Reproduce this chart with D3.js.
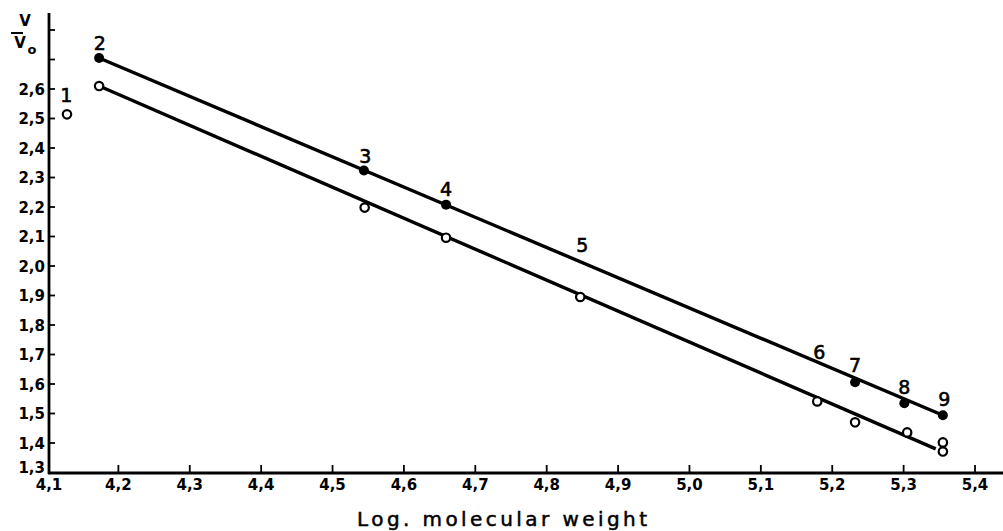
<!DOCTYPE html>
<html>
<head>
<meta charset="utf-8">
<script src="https://cdn.jsdelivr.net/npm/d3@7"></script>
<style>
  body { margin: 0; background: #fff; }
  svg { display: block; font-family: 'DejaVu Sans', sans-serif; }
</style>
</head>
<body>
<svg id="chart" width="1003" height="531"></svg>
<script>
// points: log molecular weight vs V/V0
const filledX = [4.173, 4.544, 4.659, 5.232, 5.301, 5.355];
const filledY = [2.705, 2.324, 2.208, 1.606, 1.535, 1.494];
const openX = [4.128, 4.173, 4.545, 4.659, 4.847, 5.179, 5.232, 5.305, 5.355, 5.355];
const openY = [2.514, 2.610, 2.198, 2.096, 1.895, 1.541, 1.470, 1.436, 1.402, 1.371];

// straight fitted lines, end points
const upperLineX = [4.173, 5.355];
const upperLineY = [2.705, 1.494];
const lowerLineX = [4.173, 5.345];
const lowerLineY = [2.610, 1.380];

// sample numbers written next to the points
const labelText = ['1', '2', '3', '4', '5', '6', '7', '8', '9'];
const labelX = [4.127, 4.174, 4.546, 4.659, 4.850, 5.182, 5.232, 5.301, 5.357];
const labelY = [2.576, 2.752, 2.368, 2.256, 2.065, 1.705, 1.661, 1.586, 1.545];

const xTicks = [4.1, 4.2, 4.3, 4.4, 4.5, 4.6, 4.7, 4.8, 4.9, 5.0, 5.1, 5.2, 5.3, 5.4];
const yTicks = [1.3, 1.4, 1.5, 1.6, 1.7, 1.8, 1.9, 2.0, 2.1, 2.2, 2.3, 2.4, 2.5, 2.6, 2.7, 2.8];
const yLabelled = [1.3, 1.4, 1.5, 1.6, 1.7, 1.8, 1.9, 2.0, 2.1, 2.2, 2.3, 2.4, 2.5, 2.6];

const svg = d3.select('#chart');
const x = d3.scaleLinear().domain([4.1, 5.4]).range([47, 975]);
const y = d3.scaleLinear().domain([1.3, 2.8]).range([472.5, 30]);
const fmt = v => d3.format('.1f')(v).replace('.', ',');

// axes lines
svg.append('line')
  .attr('x1', 49).attr('x2', 49).attr('y1', 13).attr('y2', 474)
  .attr('stroke', '#000').attr('stroke-width', 2.8);
svg.append('line')
  .attr('x1', 48).attr('x2', 1003).attr('y1', 473).attr('y2', 473)
  .attr('stroke', '#000').attr('stroke-width', 2.8);

// x ticks pointing up
const xg = svg.append('g');
xg.selectAll('line').data(xTicks.slice(1)).enter().append('line')
  .attr('x1', d => x(d)).attr('x2', d => x(d))
  .attr('y1', 473).attr('y2', 465)
  .attr('stroke', '#000').attr('stroke-width', 1.8);
xg.selectAll('text').data(xTicks).enter().append('text')
  .attr('x', (d, i) => x(d) + (i === 0 ? 2 : 0))
  .attr('y', 485)
  .attr('text-anchor', 'middle')
  .attr('dominant-baseline', 'middle')
  .attr('font-size', 15).attr('font-weight', 'bold')
  .text(fmt);

// y ticks pointing right
const yg = svg.append('g');
yg.selectAll('line').data(yTicks.slice(1)).enter().append('line')
  .attr('x1', 49).attr('x2', 55)
  .attr('y1', d => y(d)).attr('y2', d => y(d))
  .attr('stroke', '#000').attr('stroke-width', 1.8);
yg.selectAll('text').data(yLabelled).enter().append('text')
  .attr('x', 45)
  .attr('y', (d, i) => y(d) + (i === 0 ? -4 : 1))
  .attr('text-anchor', 'end')
  .attr('dominant-baseline', 'middle')
  .attr('font-size', 15).attr('font-weight', 'bold')
  .text(fmt);

// V / V0 axis title
const yt = svg.append('g');
yt.append('text').attr('x', 25).attr('y', 26).attr('text-anchor', 'middle')
  .attr('font-size', 15).attr('font-weight', 'bold').text('V');
yt.append('line').attr('x1', 11).attr('x2', 23).attr('y1', 33).attr('y2', 33)
  .attr('stroke', '#000').attr('stroke-width', 2);
yt.append('text').attr('x', 20).attr('y', 48).attr('text-anchor', 'middle')
  .attr('font-size', 15).attr('font-weight', 'bold').text('V');
yt.append('text').attr('x', 32).attr('y', 54).attr('text-anchor', 'middle')
  .attr('font-size', 13).attr('font-weight', 'bold').text('o');

// x axis title
svg.append('text')
  .attr('x', 502).attr('y', 526)
  .attr('text-anchor', 'middle')
  .attr('font-size', 20)
  .attr('stroke', '#000').attr('stroke-width', 0.5)
  .attr('textLength', 290).attr('lengthAdjust', 'spacing')
  .text('Log. molecular  weight');

// fitted lines
const line = d3.line().x(d => x(d[0])).y(d => y(d[1]));
svg.append('path')
  .attr('d', line(d3.zip(upperLineX, upperLineY)))
  .attr('fill', 'none').attr('stroke', '#000').attr('stroke-width', 3.4);
svg.append('path')
  .attr('d', line(d3.zip(lowerLineX, lowerLineY)))
  .attr('fill', 'none').attr('stroke', '#000').attr('stroke-width', 3.4);

// points
svg.append('g').selectAll('circle').data(d3.zip(openX, openY)).enter().append('circle')
  .attr('cx', d => x(d[0])).attr('cy', d => y(d[1])).attr('r', 4.2)
  .attr('fill', '#fff').attr('stroke', '#000').attr('stroke-width', 2.2);
svg.append('g').selectAll('circle').data(d3.zip(filledX, filledY)).enter().append('circle')
  .attr('cx', d => x(d[0])).attr('cy', d => y(d[1])).attr('r', 5)
  .attr('fill', '#000');

// sample numbers
svg.append('g').selectAll('text').data(labelText).enter().append('text')
  .attr('x', (d, i) => x(labelX[i]))
  .attr('y', (d, i) => y(labelY[i]))
  .attr('text-anchor', 'middle')
  .attr('dominant-baseline', 'middle')
  .attr('font-size', 19)
  .attr('stroke', '#000').attr('stroke-width', 0.6)
  .text(d => d);
</script>
</body>
</html>
